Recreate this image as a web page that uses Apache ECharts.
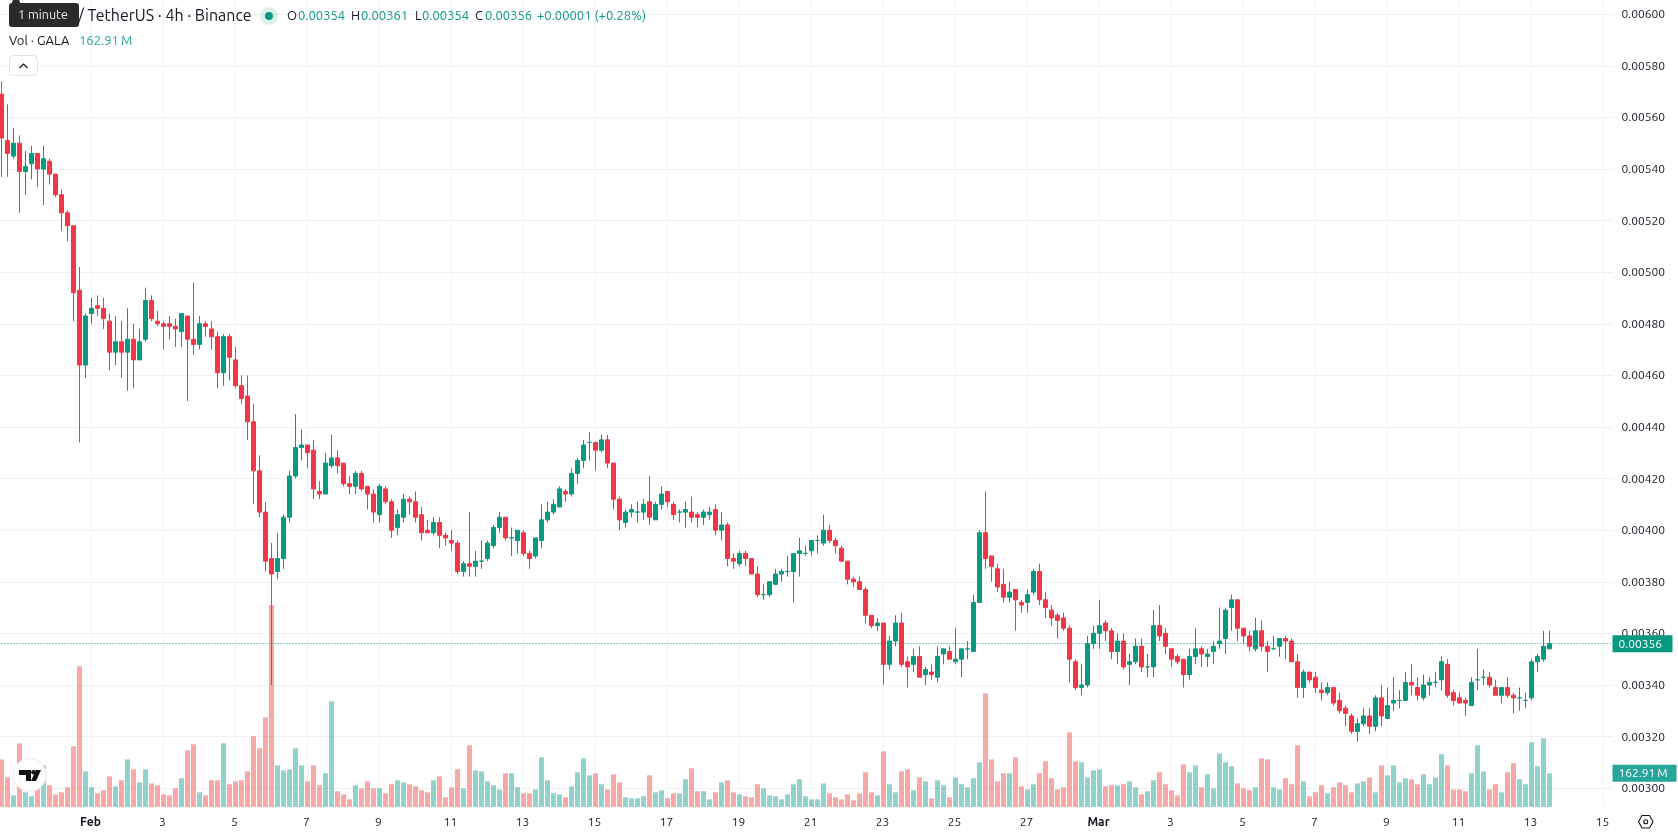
<!DOCTYPE html>
<html>
<head>
<meta charset="utf-8">
<title>GALA / TetherUS 4h</title>
<style>
  html, body { margin: 0; padding: 0; background: #fff; }
  #chart { width: 1678px; height: 835px; }
</style>
<script src="https://cdn.jsdelivr.net/npm/echarts@6/dist/echarts.min.js"></script>
</head>
<body>
<div id="chart"></div>
<script>
// Prices are whole ticks of 0.00001 USDT; volumes are millions of GALA.
const openPrices = [
  569,551,545,550,539,542,546,540,543,538,
  530,523,518,493,464,484,487,486,481,469,
  473,469,474,466,474,489,481,480,480,479,
  477,483,474,472,480,478,475,461,475,466,
  456,452,442,423,407,389,384,389,405,421,
  432,433,431,415,414,425,428,426,418,417,
  422,417,414,406,416,411,401,405,412,411,
  406,400,399,403,398,396,395,384,387,386,
  388,389,394,401,405,397,396,399,391,390,
  396,404,407,409,415,414,422,427,434,434,
  431,435,426,412,403,407,407,407,411,404,
  410,415,410,407,407,407,406,405,406,408,
  400,402,389,387,391,389,383,375,375,379,
  383,384,384,391,391,392,396,395,400,396,
  393,388,381,380,377,367,363,364,348,357,
  364,349,348,351,344,345,343,352,353,349,
  350,354,353,372,399,390,385,379,374,377,
  372,372,376,384,373,369,367,366,362,349,
  339,340,356,360,364,361,353,357,348,349,
  355,347,347,363,360,354,351,350,344,351,
  354,351,353,356,358,370,373,362,359,354,
  361,355,354,355,358,357,349,339,345,343,
  338,337,339,334,331,328,322,325,328,324,
  335,327,333,334,334,341,339,335,340,341,
  342,348,337,335,334,332,342,343,343,339,
  336,339,336,335,334,335,349,350,354
];
const closePrices = [
  552,546,550,539,541,546,540,544,538,530,
  523,518,492,464,483,486,486,482,469,473,
  469,474,466,473,489,482,480,479,479,478,
  484,474,472,480,479,475,461,475,467,456,
  451,442,423,407,388,383,389,405,421,432,
  433,430,416,414,426,428,425,418,417,422,
  416,414,407,417,411,400,406,412,411,405,
  399,399,403,398,397,395,384,387,386,388,
  388,395,401,405,397,397,400,391,389,397,
  404,407,410,416,414,422,427,433,434,431,
  435,426,412,404,407,408,407,410,405,410,
  414,411,406,407,408,405,405,407,407,400,
  402,389,388,391,389,383,375,375,380,383,
  384,384,391,392,391,396,396,400,396,394,
  388,381,380,377,367,363,364,348,357,364,
  348,347,351,343,346,344,351,354,350,350,
  354,354,372,399,389,386,378,374,376,373,
  371,375,384,373,370,366,365,362,350,339,
  340,356,360,363,361,353,357,347,349,355,
  347,347,363,359,355,350,349,344,351,354,
  352,352,355,357,369,373,362,359,355,361,
  355,353,354,358,357,349,339,345,342,339,
  337,339,333,330,329,322,325,328,324,335,
  328,332,334,334,341,340,336,340,341,341,
  349,336,334,333,333,341,342,343,340,336,
  339,336,335,335,334,349,351,355,356
];
const lowPrices = [
  537,537,544,523,530,536,533,526,534,529,
  516,512,481,434,459,480,483,478,462,464,
  459,454,455,466,473,481,479,470,474,471,
  471,450,468,470,475,470,455,456,458,455,
  449,435,410,405,384,340,381,385,403,420,
  427,424,412,412,414,424,422,417,414,414,
  415,408,403,403,410,397,398,403,406,403,
  396,399,398,393,394,392,383,382,382,382,
  385,388,393,399,396,390,391,390,385,389,
  393,403,406,409,411,413,418,424,427,423,
  430,424,408,400,401,405,403,404,402,404,
  408,409,404,403,401,403,401,402,404,398,
  396,386,385,386,386,383,374,373,374,379,
  380,382,372,382,390,390,391,394,395,391,
  388,379,378,377,364,362,361,340,346,355,
  347,339,345,343,340,342,341,348,350,348,
  343,350,353,372,385,380,376,372,372,361,
  368,368,375,371,366,363,358,361,341,338,
  336,339,354,354,357,350,348,346,340,348,
  345,343,343,357,352,347,348,339,342,348,
  347,347,348,354,352,361,357,356,353,353,
  353,345,354,351,350,349,335,335,341,337,
  334,336,332,329,324,321,318,324,321,322,
  324,327,330,331,334,336,334,334,336,339,
  338,335,332,333,328,332,338,340,339,336,
  333,335,329,330,331,334,345,349,354
];
const highPrices = [
  574,565,556,553,547,549,546,549,544,538,
  532,524,518,502,484,490,491,490,484,483,
  481,486,480,478,494,491,485,481,483,482,
  484,483,496,483,481,481,477,476,476,471,
  460,460,449,429,411,395,399,406,423,445,
  439,433,435,419,430,437,431,426,421,423,
  423,417,416,418,417,412,408,414,413,415,
  409,404,405,405,399,400,396,388,407,392,
  396,396,402,407,405,401,400,400,392,397,
  410,411,412,417,416,424,428,435,438,434,
  437,437,426,413,408,410,411,412,421,411,
  417,415,411,408,411,413,407,408,409,410,
  407,403,391,392,392,389,386,379,380,385,
  385,390,391,397,394,396,398,406,402,397,
  394,388,382,382,378,367,366,364,359,367,
  368,351,354,355,347,348,355,354,355,362,
  354,357,375,400,415,390,387,385,380,377,
  373,377,385,387,376,371,368,368,363,350,
  348,359,363,373,365,362,360,360,352,358,
  358,352,369,371,362,354,352,350,354,362,
  355,354,357,370,370,375,373,362,361,366,
  365,357,359,358,359,358,352,346,345,345,
  341,341,339,337,332,329,327,331,331,336,
  340,339,343,338,345,348,343,344,343,345,
  351,350,338,337,335,343,354,346,345,342,
  339,343,337,339,337,350,352,361,361
];
const volumes = [
  230,143,56,308,71,52,89,201,105,61,
  71,95,293,680,172,95,66,81,148,100,
  129,230,182,119,182,114,105,61,56,90,
  139,274,303,71,56,129,129,308,110,124,
  129,172,342,284,433,976,201,177,182,284,
  201,124,201,105,163,511,76,61,37,105,
  90,124,90,90,66,110,129,119,110,100,
  81,71,129,148,47,95,182,90,298,177,
  172,124,105,85,163,163,95,66,66,85,
  240,129,66,61,47,100,168,235,153,163,
  110,85,158,119,47,42,42,52,153,71,
  81,42,66,66,134,187,76,76,37,71,
  119,129,71,61,52,47,110,90,56,52,
  37,61,110,134,52,37,37,114,66,47,
  37,61,32,66,168,71,56,269,110,71,
  172,182,81,143,124,42,129,105,47,143,
  110,95,139,216,549,230,124,163,163,240,
  100,85,110,163,221,139,85,95,361,221,
  216,143,177,182,100,105,105,110,124,95,
  61,76,129,168,110,81,56,206,168,201,
  95,158,90,259,216,197,114,90,81,95,
  235,230,95,85,139,110,298,124,52,71,
  105,66,95,119,105,71,114,124,143,71,
  201,153,201,119,139,134,110,158,110,143,
  255,201,85,85,76,163,298,172,85,110,
  71,168,211,134,110,313,197,332,162.91
];

// Date axis: one slot per 4h bar, running on past the last bar to 15 March.
const firstBarTime = Date.UTC(2025, 0, 29, 12);
const barMillis = 4 * 3600 * 1000;
const slotCount = 269;
const monthNames = ['Jan', 'Feb', 'Mar'];
const timeSlots = Array.from({ length: slotCount }, (_, i) => firstBarTime + i * barMillis);
const firstTickSlot = 15;

function slotText(i) {
  const d = new Date(timeSlots[i]);
  if (i < firstTickSlot || d.getUTCHours() !== 0) return '';
  const day = d.getUTCDate();
  if (day === 1) return '{month|' + monthNames[d.getUTCMonth()] + '}';
  return day % 2 === 1 ? String(day) : '';
}
const categories = timeSlots.map((_, i) => slotText(i));

const priceTicks = [300, 320, 340, 360, 380, 400, 420, 440, 460, 480, 500, 520, 540, 560, 580, 600];
const lastPrice = 356;
const lastVolume = 162.91;

const RED = '#F23645', GREEN = '#089981';
const TEXT = '#131722', GRID = '#F1F1F3';
const VOL_RED = 'rgba(239,83,80,0.5)', VOL_GREEN = 'rgba(38,166,154,0.5)';
const UI_FONT = 'Ubuntu, "Noto Sans", Roboto, sans-serif';
const fmtPrice = v => (v / 1e5).toFixed(5);

const hasLabel = (index) => categories[index] !== '';

function headerText(x, y, text, fill, size) {
  return { type: 'text', x, y, silent: true, z: 50,
    style: { text, fill, font: (size || 13) + 'px ' + UI_FONT, textVerticalAlign: 'middle' } };
}

const chart = echarts.init(document.getElementById('chart'), null, { renderer: 'canvas' });

chart.setOption({
  animation: false,
  backgroundColor: '#ffffff',
  textStyle: { fontFamily: UI_FONT },
  grid: { left: -1.5, top: 0, width: 1614, height: 807, containLabel: false, outerBoundsMode: 'none' },
  xAxis: {
    type: 'category',
    data: categories,
    axisLine: { show: false },
    axisTick: { show: false },
    splitLine: { show: true, interval: hasLabel, alignWithLabel: true, lineStyle: { color: GRID, width: 1 } },
    axisLabel: {
      interval: hasLabel, color: TEXT, fontSize: 12, margin: 9, hideOverlap: false, padding: [0, 2, 0, 0],
      rich: { month: { fontWeight: 'bold', fontSize: 12, color: TEXT } }
    }
  },
  yAxis: [
    {
      type: 'value', position: 'right', min: 292.7, max: 605.49, scale: true,
      axisLine: { show: false },
      axisTick: { show: false, customValues: priceTicks },
      splitLine: { show: true, customValues: priceTicks, lineStyle: { color: GRID, width: 1 } },
      axisLabel: { customValues: priceTicks, formatter: fmtPrice, color: TEXT, fontSize: 12, margin: 9 }
    },
    { type: 'value', min: 0, max: 3900, show: false, splitLine: { show: false } }
  ],
  series: [
    {
      name: 'Volume', type: 'bar', yAxisIndex: 1, barWidth: 5, z: 2,
      data: volumes.map((v, i) => ({
        value: v,
        itemStyle: { color: closePrices[i] >= openPrices[i] ? VOL_GREEN : VOL_RED }
      })),
      markLine: {
        silent: true, symbol: 'none', animation: false,
        lineStyle: { color: 'transparent', width: 1 },
        label: {
          position: 'end', distance: 0, formatter: '162.91\u2009M', color: '#fff', fontSize: 12,
          backgroundColor: '#26A69A', padding: [2, 6, 2, 6], width: 52, height: 13, lineHeight: 13, align: 'left'
        },
        data: [{ yAxis: lastVolume }]
      }
    },
    {
      name: 'GALA / USDT', type: 'candlestick', yAxisIndex: 0, barWidth: 4, z: 3, clip: true,
      itemStyle: {
        color: GREEN, color0: RED, borderColor: GREEN, borderColor0: RED,
        borderColorDoji: GREEN, borderWidth: 1
      },
      data: openPrices.map((o, i) => [o, closePrices[i], lowPrices[i], highPrices[i]]),
      markLine: {
        silent: true, symbol: 'none', animation: false,
        lineStyle: { color: GREEN, type: [1, 2], width: 1 },
        label: {
          position: 'end', distance: 0, formatter: fmtPrice(lastPrice), color: '#fff', fontSize: 12,
          backgroundColor: GREEN, padding: [2, 6, 2, 6], width: 48, height: 13, lineHeight: 13, align: 'left'
        },
        data: [{ yAxis: lastPrice }]
      }
    }
  ],
  graphic: [
    headerText(78, 16, '/ TetherUS · 4h · Binance', TEXT, 16),
    { type: 'circle', shape: { cx: 269, cy: 16, r: 9 }, style: { fill: 'rgba(8,153,129,0.14)' }, silent: true, z: 50 },
    { type: 'circle', shape: { cx: 269, cy: 16, r: 4 }, style: { fill: GREEN }, silent: true, z: 51 },
    headerText(287, 16, 'O', TEXT), headerText(298, 16, '0.00354', GREEN),
    headerText(351, 16, 'H', TEXT), headerText(361, 16, '0.00361', GREEN),
    headerText(415, 16, 'L', TEXT), headerText(422, 16, '0.00354', GREEN),
    headerText(475, 16, 'C', TEXT), headerText(485, 16, '0.00356', GREEN),
    headerText(537, 16, '+0.00001 (+0.28%)', GREEN),
    headerText(9, 41, 'Vol · GALA', TEXT), headerText(79, 41, '162.91\u2009M', '#26A69A'),

    // Hover hint over the symbol name
    { type: 'circle', shape: { cx: 16, cy: 3, r: 4 }, style: { fill: '#2A2A2A' }, silent: true, z: 60 },
    { type: 'rect', shape: { x: 9, y: 3, width: 70, height: 24, r: 3 }, style: { fill: '#2A2A2A' }, silent: true, z: 60 },
    { type: 'text', x: 18, y: 15, silent: true, z: 61,
      style: { text: '1 minute', fill: '#E8E8E8', font: '12.5px ' + UI_FONT, textVerticalAlign: 'middle' } },

    // Collapse button for the legend
    { type: 'rect', shape: { x: 9.5, y: 55.5, width: 28, height: 20, r: 4 },
      style: { fill: '#fff', stroke: '#E0E3EB', lineWidth: 1 }, silent: true, z: 50 },
    { type: 'polyline', shape: { points: [[19.5, 68], [23.5, 64], [27.5, 68]] },
      style: { stroke: TEXT, lineWidth: 1.2, fill: null }, silent: true, z: 51 },

    // Logo badge
    { type: 'circle', shape: { cx: 29.7, cy: 775, r: 16.5 },
      style: { fill: 'rgba(255,255,255,0.95)', stroke: '#ECECEC', lineWidth: 1 }, silent: true, z: 50 },
    { type: 'polygon', shape: { points: [[19, 770], [31, 770], [31, 781], [26, 781], [26, 775], [19, 775]] },
      style: { fill: '#111' }, silent: true, z: 51 },
    { type: 'circle', shape: { cx: 33.5, cy: 772.3, r: 2.3 }, style: { fill: '#111' }, silent: true, z: 51 },
    { type: 'polygon', shape: { points: [[36, 770], [41, 770], [36, 781], [31, 781]] },
      style: { fill: '#111' }, silent: true, z: 51 },

    // Settings icon under the price scale
    { type: 'polygon', shape: { points: [[1638.5, 821.7], [1642, 815.5], [1649.5, 815.5], [1653, 821.7], [1649.5, 828], [1642, 828]] },
      style: { fill: 'none', stroke: TEXT, lineWidth: 1.1 }, silent: true, z: 50 },
    { type: 'circle', shape: { cx: 1645.7, cy: 821.7, r: 2 },
      style: { fill: 'none', stroke: TEXT, lineWidth: 1.1 }, silent: true, z: 50 }
  ]
});
</script>
</body>
</html>
